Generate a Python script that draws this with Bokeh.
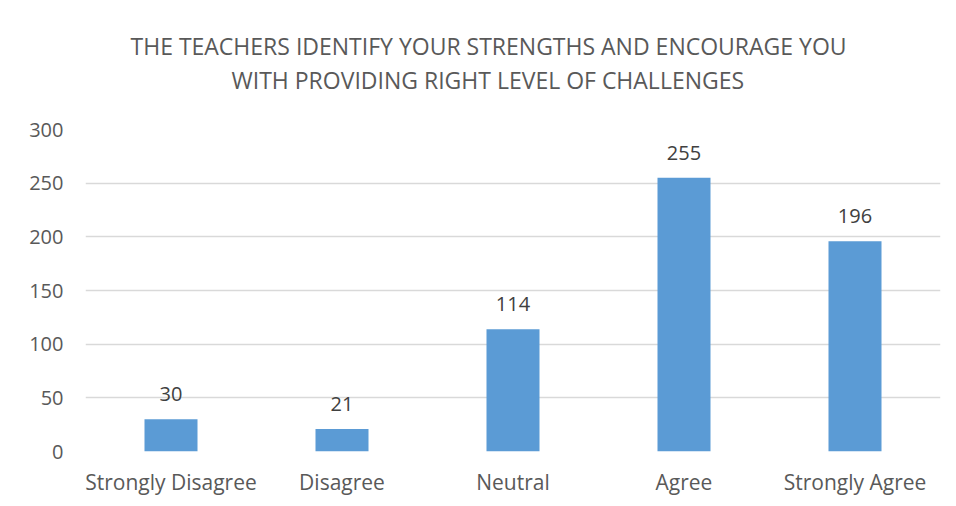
from bokeh.plotting import figure
from bokeh.models import Range1d, FactorRange, Title, ColumnDataSource, FixedTicker, CategoricalAxis
from bokeh.core.properties import value
from bokeh.embed import file_html
from bokeh.resources import INLINE

title_lines = ["THE TEACHERS IDENTIFY YOUR STRENGTHS AND ENCOURAGE YOU",
               "WITH PROVIDING RIGHT LEVEL OF CHALLENGES"]
categories = ["Strongly Disagree", "Disagree", "Neutral", "Agree", "Strongly Agree"]
counts = [30, 21, 114, 255, 196]
y_ticks = [0, 50, 100, 150, 200, 250, 300]

FONT = "Open Sans"
TXT = "#595959"

src = ColumnDataSource(dict(cat=categories, val=counts, lab=[str(v) for v in counts]))

p = figure(width=948, height=498, x_range=FactorRange(*categories, range_padding=0),
           y_range=Range1d(0, 300), output_backend="svg", toolbar_location=None,
           min_border_left=85, min_border_right=8, min_border_top=129, min_border_bottom=47)
p.outline_line_color = None
p.background_fill_color = "white"
p.border_fill_color = "white"

p.vbar(x="cat", top="val", width=0.31, source=src, fill_color="#5b9bd5", line_color=None)
p.text(x="cat", y="val", text="lab", source=src, text_align="center", text_baseline="bottom",
       y_offset=-18, text_font=value(FONT), text_font_size="20px", text_color="#404040")

for ax in (p.xaxis[0], p.yaxis[0]):
    ax.axis_line_color = None
    ax.major_tick_line_color = None
    ax.minor_tick_line_color = None
    ax.major_label_text_font = FONT
    ax.major_label_text_color = TXT
p.xaxis[0].major_label_text_font_size = "21px"
p.yaxis[0].major_label_text_font_size = "20px"
p.yaxis[0].ticker = FixedTicker(ticks=y_ticks)
p.yaxis[0].major_label_standoff = 16
p.xaxis[0].major_label_standoff = 10

p.xgrid.grid_line_color = None
p.ygrid.grid_line_color = "#d9d9d9"
p.ygrid.grid_line_width = 1.5

# invisible spacer (nothing painted) between the frame and the two title lines
spacer = CategoricalAxis(axis_line_color=None, major_tick_line_color=None,
                         minor_tick_line_color=None, major_tick_out=34, major_tick_in=0,
                         minor_tick_out=0, minor_tick_in=0, major_label_standoff=0,
                         major_label_text_color=None, group_text_color=None,
                         subgroup_text_color=None)
p.add_layout(spacer, "above")

# first added sits closest to the frame
p.add_layout(Title(text=title_lines[1], align="left", offset=146, text_font=FONT,
                   text_font_size="23px", text_font_style="normal", text_color=TXT,
                   standoff=0), "above")
p.add_layout(Title(text=title_lines[0], align="left", offset=45, text_font=FONT,
                   text_font_size="23px", text_font_style="normal", text_color=TXT,
                   standoff=0), "above")

open("out.html", "w").write(file_html(p, INLINE))
